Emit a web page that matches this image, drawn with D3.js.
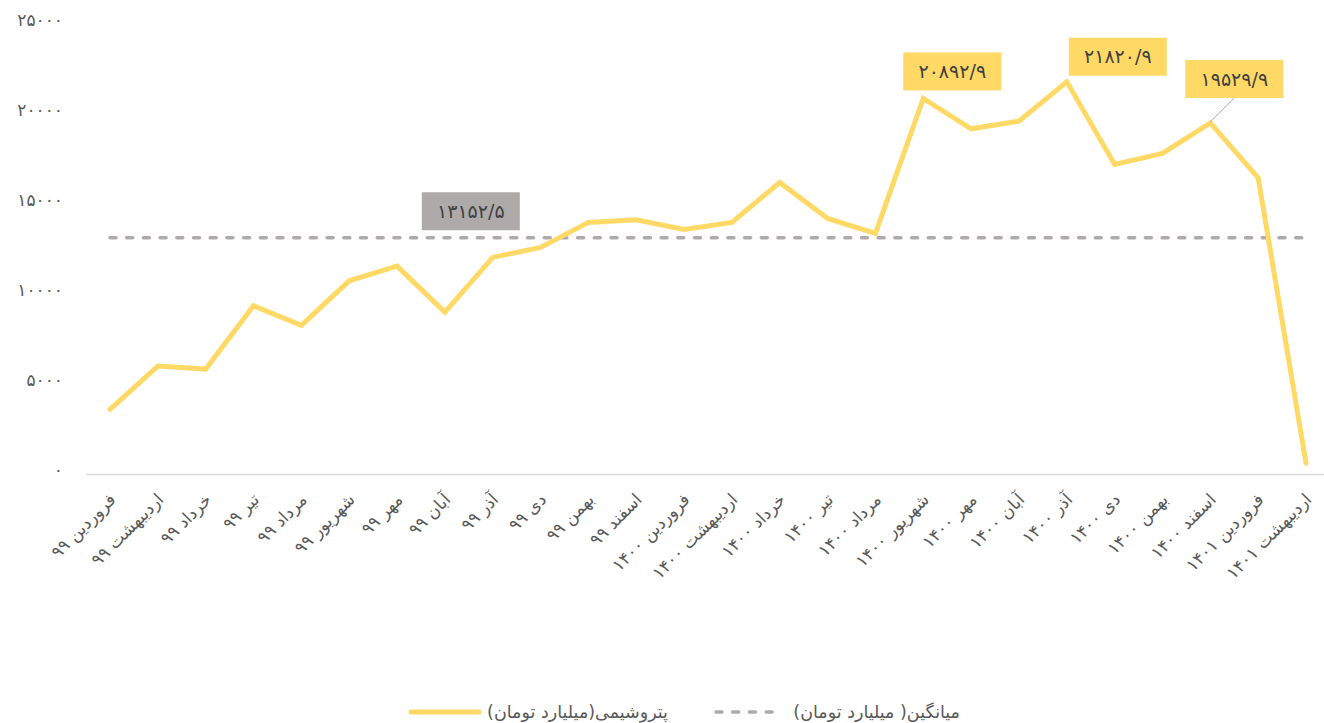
<!DOCTYPE html>
<html lang="fa">
<head>
<meta charset="utf-8">
<script src="https://cdn.jsdelivr.net/npm/d3@7/dist/d3.min.js"></script>
<style>
  html, body { margin: 0; padding: 0; background: #ffffff; }
  svg { display: block; font-family: "DejaVu Sans", sans-serif; }
</style>
</head>
<body>
<svg id="chart" width="1324" height="723"></svg>
<script>
// Monthly months (Persian calendar), Farvardin 99 .. Ordibehesht 1401
const categories = [
  "فروردین ۹۹", "اردیبهشت ۹۹", "خرداد ۹۹", "تیر ۹۹", "مرداد ۹۹", "شهریور ۹۹",
  "مهر ۹۹", "آبان ۹۹", "آذر ۹۹", "دی ۹۹", "بهمن ۹۹", "اسفند ۹۹",
  "فروردین ۱۴۰۰", "اردیبهشت ۱۴۰۰", "خرداد ۱۴۰۰", "تیر ۱۴۰۰", "مرداد ۱۴۰۰", "شهریور ۱۴۰۰",
  "مهر ۱۴۰۰", "آبان ۱۴۰۰", "آذر ۱۴۰۰", "دی ۱۴۰۰", "بهمن ۱۴۰۰", "اسفند ۱۴۰۰",
  "فروردین ۱۴۰۱", "اردیبهشت ۱۴۰۱"
];

// Petrochemical sales (billion toman)
const petroValues = [
  3617, 6022, 5856, 9372, 8283, 10761,
  11578, 9022, 12061, 12617, 14006, 14150,
  13617, 14006, 16228, 14228, 13394, 20892.9,
  19206, 19633, 21820.9, 17228, 17839, 19529.9,
  16483, 633
];

// Average over the period (billion toman)
const averageValue = 13152.5;

const yTicks = [0, 5000, 10000, 15000, 20000, 25000];

// Points that carry a value callout
const calloutIndices = [17, 20, 23];

const seriesName = "پتروشیمی(میلیارد تومان)";
const averageName = "میانگین( میلیارد تومان)";

// ---- helpers ----
const faDigits = "۰۱۲۳۴۵۶۷۸۹";
const toFa = s => String(s).replace(/[0-9]/g, d => faDigits[+d]);
const fmtValue = v => toFa(v.toFixed(1).replace(".", "/"));

// ---- layout ----
const YELLOW = "#FFD966";
const GREY = "#AEAAAA";
const TEXT = "#595959";

const svg = d3.select("#chart");

const x = d3.scalePoint().domain(categories).range([110, 1306]);
const step = x.step();
const y = d3.scaleLinear().domain([0, 25000]).range([474.5, 24.5]);

// horizontal axis line
svg.append("line")
  .attr("x1", x(categories[0]) - step / 2)
  .attr("x2", x(categories[categories.length - 1]) + step / 2)
  .attr("y1", y(0)).attr("y2", y(0))
  .attr("stroke", "#D9D9D9").attr("stroke-width", 1.5);

// y axis labels
const yAxis = d3.axisLeft(y).tickValues(yTicks).tickSize(0).tickPadding(0)
  .tickFormat(d => toFa(d));
const yg = svg.append("g").attr("transform", "translate(63,-4)").call(yAxis);
yg.select(".domain").remove();
yg.selectAll("text")
  .attr("fill", TEXT).attr("font-size", 17).attr("font-family", "DejaVu Sans");

// x axis labels, rotated
const xAxis = d3.axisBottom(x).tickSize(0).tickPadding(0);
const xg = svg.append("g").attr("transform", `translate(0,${y(0)})`).call(xAxis);
xg.select(".domain").remove();
xg.selectAll(".tick text")
  .attr("fill", TEXT).attr("font-size", 17).attr("font-family", "DejaVu Sans")
  .attr("text-anchor", "end")
  .attr("dy", "0.35em")
  .attr("transform", "translate(2,22) rotate(-45)")
  .attr("x", 0).attr("y", 0);

// average line
svg.append("line")
  .attr("x1", x(categories[0])).attr("x2", x(categories[categories.length - 1]))
  .attr("y1", y(averageValue)).attr("y2", y(averageValue))
  .attr("stroke", GREY).attr("stroke-width", 3.5)
  .attr("stroke-dasharray", "6 10.7").attr("stroke-linecap", "round");

// main series
const line = d3.line()
  .x((d, i) => x(categories[i]))
  .y(d => y(d));
svg.append("path")
  .datum(petroValues)
  .attr("d", line)
  .attr("fill", "none")
  .attr("stroke", YELLOW).attr("stroke-width", 5)
  .attr("stroke-linejoin", "miter").attr("stroke-linecap", "round");

// callout boxes
const BOX_W = 98, BOX_H = 38;
const calloutOffsets = { 17: [29, -27], 20: [51, -25], 23: [24, -44] };

function drawBox(cx, cy, fill, label) {
  svg.append("rect")
    .attr("x", cx - BOX_W / 2).attr("y", cy - BOX_H / 2)
    .attr("width", BOX_W).attr("height", BOX_H)
    .attr("fill", fill);
  svg.append("text")
    .attr("x", cx).attr("y", cy)
    .attr("text-anchor", "middle").attr("dy", "0.35em")
    .attr("font-size", 19).attr("fill", "#404040")
    .text(label);
}

calloutIndices.forEach(i => {
  const px = x(categories[i]), py = y(petroValues[i]);
  const [dx, dy] = calloutOffsets[i];
  const cx = px + dx, cy = py + dy;
  if (i === 23) {
    // leader line from the point to the box
    svg.append("line")
      .attr("x1", px).attr("y1", py - 1)
      .attr("x2", cx).attr("y2", cy + BOX_H / 2)
      .attr("stroke", "#A6A6A6").attr("stroke-width", 1);
  }
  drawBox(cx, cy, YELLOW, fmtValue(petroValues[i]));
});

// average label
drawBox((x(categories[7]) + x(categories[8])) / 2 + 2, y(averageValue) - 26.5, GREY, fmtValue(averageValue));

// legend
const legY = 712;
const leg = svg.append("g");
leg.append("line")
  .attr("x1", 411).attr("x2", 479).attr("y1", legY).attr("y2", legY)
  .attr("stroke", YELLOW).attr("stroke-width", 5).attr("stroke-linecap", "round");
leg.append("text")
  .attr("x", 668).attr("y", legY).attr("dy", "0.35em")
  .attr("direction", "rtl").attr("text-anchor", "start")
  .attr("font-size", 17.5).attr("fill", TEXT)
  .text(seriesName);
leg.append("line")
  .attr("x1", 716).attr("x2", 782).attr("y1", legY).attr("y2", legY)
  .attr("stroke", GREY).attr("stroke-width", 3.5)
  .attr("stroke-dasharray", "6 10.7").attr("stroke-linecap", "round");
leg.append("text")
  .attr("x", 960).attr("y", legY).attr("dy", "0.35em")
  .attr("direction", "rtl").attr("text-anchor", "start")
  .attr("font-size", 17.5).attr("fill", TEXT)
  .text(averageName);
</script>
</body>
</html>
